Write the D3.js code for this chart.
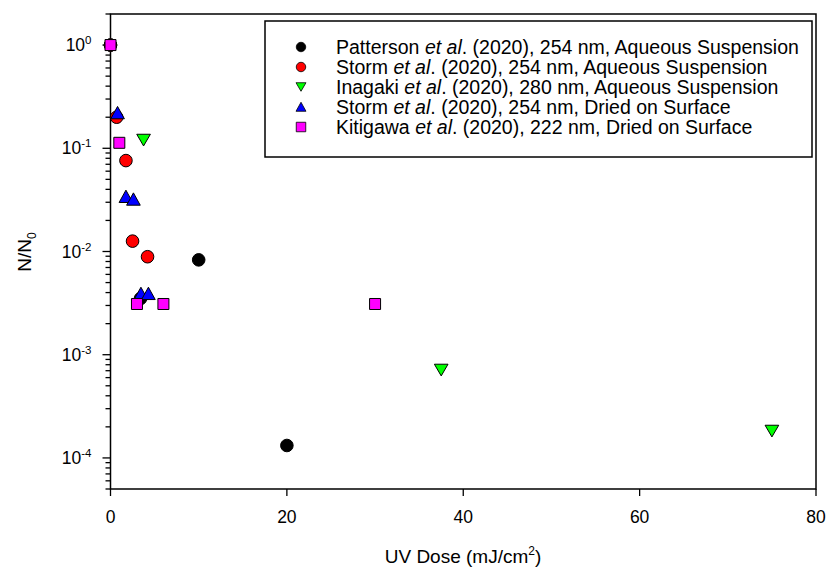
<!DOCTYPE html>
<html><head><meta charset="utf-8">
<script src="https://cdn.jsdelivr.net/npm/d3@7"></script>
<style>body{margin:0;background:#fff}svg{display:block}text{font-family:"Liberation Sans",Arial,sans-serif;fill:#000}</style>
</head><body><svg id="c" width="827" height="569"></svg>
<script>
// ---- data ----
const pattersonX = [0, 3.4, 10, 20];
const pattersonY = [1, 0.0035, 0.0083, 0.000132];
const stormAqX = [0, 0.7, 1.75, 2.5, 4.2];
const stormAqY = [1, 0.2, 0.076, 0.0126, 0.0089];
const inagakiX = [3.75, 37.5, 75];
const inagakiY = [0.12, 0.00071, 0.000182];
const stormDryX = [0.8, 1.75, 2.6, 3.45, 4.3];
const stormDryY = [0.22, 0.034, 0.032, 0.0039, 0.0039];
const kitigawaX = [0, 1, 3, 6, 30];
const kitigawaY = [1, 0.113, 0.0031, 0.0031, 0.0031];
const xTicks = [0, 20, 40, 60, 80];
const yExponents = [0, -1, -2, -3, -4];
const seriesNames = [
  ["Patterson", "(2020), 254 nm, Aqueous Suspension"],
  ["Storm", "(2020), 254 nm, Aqueous Suspension"],
  ["Inagaki", "(2020), 280 nm, Aqueous Suspension"],
  ["Storm", "(2020), 254 nm, Dried on Surface"],
  ["Kitigawa", "(2020), 222 nm, Dried on Surface"]
];
const colors = ["#000000", "#ff0000", "#00ff00", "#0000ff", "#ff00ff"];
const shapes = ["circle", "circle", "tridown", "triup", "square"];

const svg = d3.select("#c");
const L = 110.5, R = 816, T = 14, B = 489;
const x = d3.scaleLinear().domain([0, 80]).range([L, R]);
const y = d3.scaleLog().domain([5e-5, 2]).range([B, T]);

function shapePath(s, sz) {
  const h = sz / 2;
  if (s === "circle") return d3.symbol(d3.symbolCircle, Math.PI * h * h)();
  if (s === "square") return `M${-h},${-h}H${h}V${h}H${-h}Z`;
  if (s === "triup") return `M0,${-h}L${h * 1.05},${h * 0.9}L${-h * 1.05},${h * 0.9}Z`;
  if (s === "tridown") return `M0,${h * 0.9}L${h * 1.05},${-h * 0.9}L${-h * 1.05},${-h * 0.9}Z`;
}

// axes
const yMinor = [];
for (let e = -5; e <= 0; e++) for (let m = 2; m <= 9; m++) {
  const v = m * Math.pow(10, e);
  if (v >= 5e-5 * 0.999 && v <= 2.001) yMinor.push(v);
}
const gy = svg.append("g");
gy.selectAll("line.mi").data(yMinor).join("line")
  .attr("x1", L - 5).attr("x2", L).attr("y1", d => y(d)).attr("y2", d => y(d))
  .attr("stroke", "#000").attr("stroke-width", 1.3);
gy.selectAll("line.ma").data(yExponents).join("line")
  .attr("x1", L - 8).attr("x2", L).attr("y1", d => y(Math.pow(10, d))).attr("y2", d => y(Math.pow(10, d)))
  .attr("stroke", "#000").attr("stroke-width", 1.3);
const yl = gy.selectAll("text").data(yExponents).join("text")
  .attr("x", L - 19).attr("y", d => y(Math.pow(10, d)) + 6)
  .attr("text-anchor", "end").attr("font-size", 17.5);
yl.append("tspan").text("10");
yl.append("tspan").attr("font-size", 11.5).attr("dy", -7).text(d => String(d));

const gx = svg.append("g");
gx.selectAll("line").data(xTicks).join("line")
  .attr("x1", d => x(d)).attr("x2", d => x(d)).attr("y1", B).attr("y2", B + 7)
  .attr("stroke", "#000").attr("stroke-width", 1.3);
gx.selectAll("text").data(xTicks).join("text")
  .attr("x", d => x(d)).attr("y", B + 34).attr("text-anchor", "middle")
  .attr("font-size", 17.5).text(d => d);

// frame
svg.append("path").attr("d", `M${L},${T}H${R}V${B}H${L}Z`)
  .attr("fill", "none").attr("stroke", "#000").attr("stroke-width", 1.5);

// titles
const xt = svg.append("text").attr("x", 463).attr("y", 563).attr("text-anchor", "middle").attr("font-size", 19);
xt.append("tspan").text("UV Dose (mJ/cm");
xt.append("tspan").attr("font-size", 12).attr("dy", -8).text("2");
xt.append("tspan").attr("dy", 8).text(")");
const yt = svg.append("text").attr("transform", "translate(31,252) rotate(-90)").attr("text-anchor", "middle").attr("font-size", 19);
yt.append("tspan").text("N/N");
yt.append("tspan").attr("font-size", 12).attr("dy", 5).text("0");

// data
const series = [
  { xs: pattersonX, ys: pattersonY },
  { xs: stormAqX, ys: stormAqY },
  { xs: inagakiX, ys: inagakiY },
  { xs: stormDryX, ys: stormDryY },
  { xs: kitigawaX, ys: kitigawaY }
];
const sizes = [12.6, 12.6, 13, 13, 11];
series.forEach((s, i) => {
  const pts = s.xs.map((v, j) => [v, s.ys[j]]);
  svg.append("g").selectAll("path").data(pts).join("path")
    .attr("transform", d => `translate(${x(d[0])},${y(d[1])})`)
    .attr("d", shapePath(shapes[i], sizes[i]))
    .attr("fill", colors[i]).attr("stroke", "#000").attr("stroke-width", 1);
});

// legend
const lg = svg.append("g");
lg.append("rect").attr("x", 265).attr("y", 21).attr("width", 547).attr("height", 136)
  .attr("fill", "#fff").attr("stroke", "#000").attr("stroke-width", 1.5);
seriesNames.forEach((n, i) => {
  const cy = 47 + i * 20;
  lg.append("path").attr("transform", `translate(301,${cy})`)
    .attr("d", shapePath(shapes[i], 9.5)).attr("fill", colors[i]).attr("stroke", "#000").attr("stroke-width", 0.8);
  const t = lg.append("text").attr("x", 336).attr("y", cy + 7).attr("font-size", 19.5);
  t.append("tspan").text(n[0] + " ");
  t.append("tspan").attr("font-style", "italic").text("et al");
  t.append("tspan").text(". " + n[1]);
});
</script></body></html>
